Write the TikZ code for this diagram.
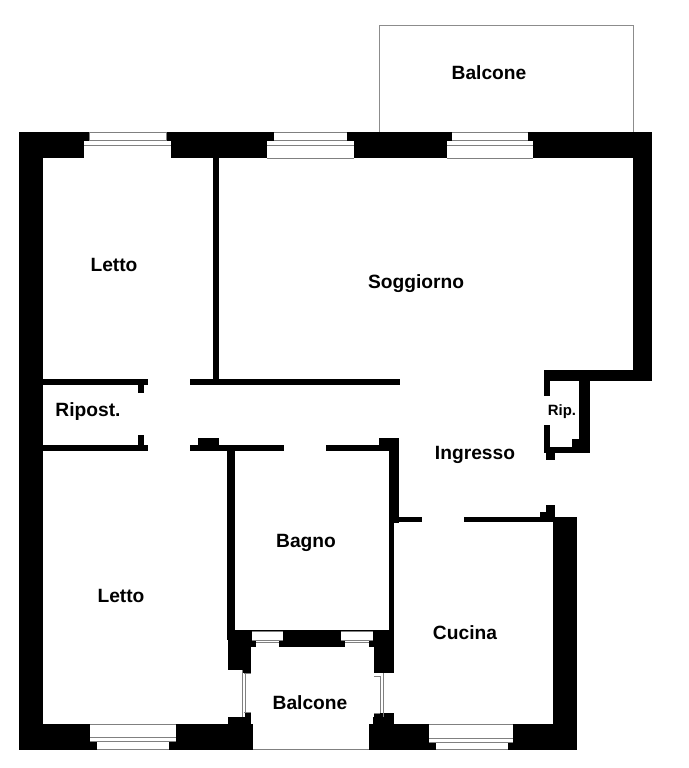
\documentclass[tikz,border=0pt]{standalone}
\usepackage{fontspec}
\setmainfont{Liberation Sans}
\tikzset{
  wall/.style={fill=black,draw=none},
  pane/.style={fill=white,draw=none},
  sash/.style={draw=black!50,line width=0.75pt},
  roomlabel/.style={font=\fontsize{14.4}{16}\selectfont\bfseries,inner sep=0pt,anchor=center},
  smalllabel/.style={font=\fontsize{11.2}{13}\selectfont\bfseries,inner sep=0pt,anchor=center}
}
\begin{document}
\begin{tikzpicture}[x=0.75pt,y=-0.75pt]
\useasboundingbox (0,0) rectangle (689,768);
\fill[white] (0,0) rectangle (689,768);
% upper balcony outline
\draw[draw=black!45,line width=0.75pt] (379,132) -- (379,25.5) -- (633.5,25.5) -- (633.5,132);
% outer walls
\fill[wall] (19,132) rectangle (652,158);
\fill[wall] (19,132) rectangle (43,750);
\fill[wall] (633,132) rectangle (652,381);
\fill[wall] (19,724) rectangle (253,750);
\fill[wall] (369,724) rectangle (577,750);
\fill[wall] (553,517) rectangle (577,750);
% ripostiglio Rip.
\fill[wall] (544,370) rectangle (652,381);
\fill[wall] (544,370) rectangle (550,396);
\fill[wall] (544,425) rectangle (550,453);
\fill[wall] (579,370) rectangle (590,453);
\fill[wall] (544,447) rectangle (590,453);
\fill[wall] (572,439) rectangle (580,448);
\fill[wall] (546,452) rectangle (555,460);
% partitions
\fill[wall] (213,158) rectangle (219,385);
\fill[wall] (43,379) rectangle (148,385);
\fill[wall] (138,384) rectangle (144,393);
\fill[wall] (138,435) rectangle (144,446);
\fill[wall] (43,445) rectangle (148,451);
\fill[wall] (190,379) rectangle (400,385);
\fill[wall] (190,445) rectangle (284,451);
\fill[wall] (198,438) rectangle (219,446);
\fill[wall] (227,450) rectangle (235,640);
\fill[wall] (326,445) rectangle (399,451);
\fill[wall] (379,438) rectangle (399,446);
\fill[wall] (389,438) rectangle (399,523);
\fill[wall] (389,522) rectangle (394,640);
\fill[wall] (394,517) rectangle (422,522);
\fill[wall] (464,517) rectangle (553,522);
\fill[wall] (546,505) rectangle (555,518);
\fill[wall] (540,512) rectangle (555,518);
% block around lower balcony
\fill[wall] (228,630) rectangle (394,647);
\fill[wall] (228,630) rectangle (251,670);
\fill[wall] (242,660) rectangle (251,673);
\fill[wall] (374,630) rectangle (394,673);
\fill[wall] (245,712) rectangle (251,725);
\fill[wall] (228,717) rectangle (251,725);
\fill[wall] (374,713) rectangle (394,725);
\fill[wall] (373,717) rectangle (394,725);
% top windows
\fill[pane] (89,132) rectangle (166,141);
\fill[pane] (84,141) rectangle (171,158.5);
\draw[sash] (89,132.4) -- (166,132.4) (89,132) -- (89,141) (166,132) -- (166,141);
\draw[sash] (89,140.6) -- (166,140.6) (84,145) -- (171,145);
\fill[pane] (274,132) rectangle (347,141);
\fill[pane] (267,141) rectangle (354,158);
\draw[sash] (274,132.4) -- (347,132.4) (274,140.6) -- (347,140.6) (267,145) -- (354,145) (267,158) -- (354,158);
\fill[pane] (452,132) rectangle (528,141);
\fill[pane] (447,141) rectangle (533,158);
\draw[sash] (452,132.4) -- (528,132.4) (452,140.6) -- (528,140.6) (447,145) -- (533,145) (447,158) -- (533,158);
% bottom windows
\fill[pane] (90,724) rectangle (176,741);
\fill[pane] (97,741) rectangle (169,750);
\draw[sash] (90,724.4) -- (176,724.4) (90,737) -- (176,737) (90,741) -- (176,741) (97,749.5) -- (169,749.5);
\fill[pane] (429,724) rectangle (513,742);
\fill[pane] (436,742) rectangle (508,750);
\draw[sash] (429,724.4) -- (513,724.4) (429,738.5) -- (513,738.5) (429,742) -- (513,742) (436,749.5) -- (508,749.5);
% bathroom windows
\fill[pane] (252,631) rectangle (283,640);
\fill[pane] (256,640) rectangle (279,647);
\draw[sash] (252,631) -- (283,631) (252,640) -- (283,640) (256,642) -- (279,642);
\fill[pane] (341,631) rectangle (373,640);
\fill[pane] (345,640) rectangle (369,647);
\draw[sash] (341,631) -- (373,631) (341,640) -- (373,640) (345,642) -- (369,642);
% balcony side windows
\fill[pane] (244,673) rectangle (251,712);
\draw[sash] (242.5,670) -- (242.5,717) (245,673) -- (245,712) (244,673) -- (251,673) (244,712) -- (251,712);
\fill[pane] (374,676) rectangle (380,713);
\draw[sash] (383.5,673) -- (383.5,717) (380,676) -- (380,713) (374,676) -- (380,676) (374,713) -- (380,713);
% lower balcony floor line
\draw[sash] (253,749.5) -- (369,749.5);
% labels
\node[roomlabel] (balcA) at (489,73) {Balcone};
\node[roomlabel] (lettoA) at (114,265) {Letto};
\node[roomlabel] (sogg) at (416,284) {Soggiorno};
\node[roomlabel] (ripost) at (88,412) {Ripost.};
\node[smalllabel] (rip) at (562,412) {Rip.};
\node[roomlabel] (ingr) at (475,455) {Ingresso};
\node[roomlabel] (bagno) at (306,543) {Bagno};
\node[roomlabel] (lettoB) at (121,596) {Letto};
\node[roomlabel] (cucina) at (465,633) {Cucina};
\node[roomlabel] (balcB) at (310,703) {Balcone};
\end{tikzpicture}
\end{document}
